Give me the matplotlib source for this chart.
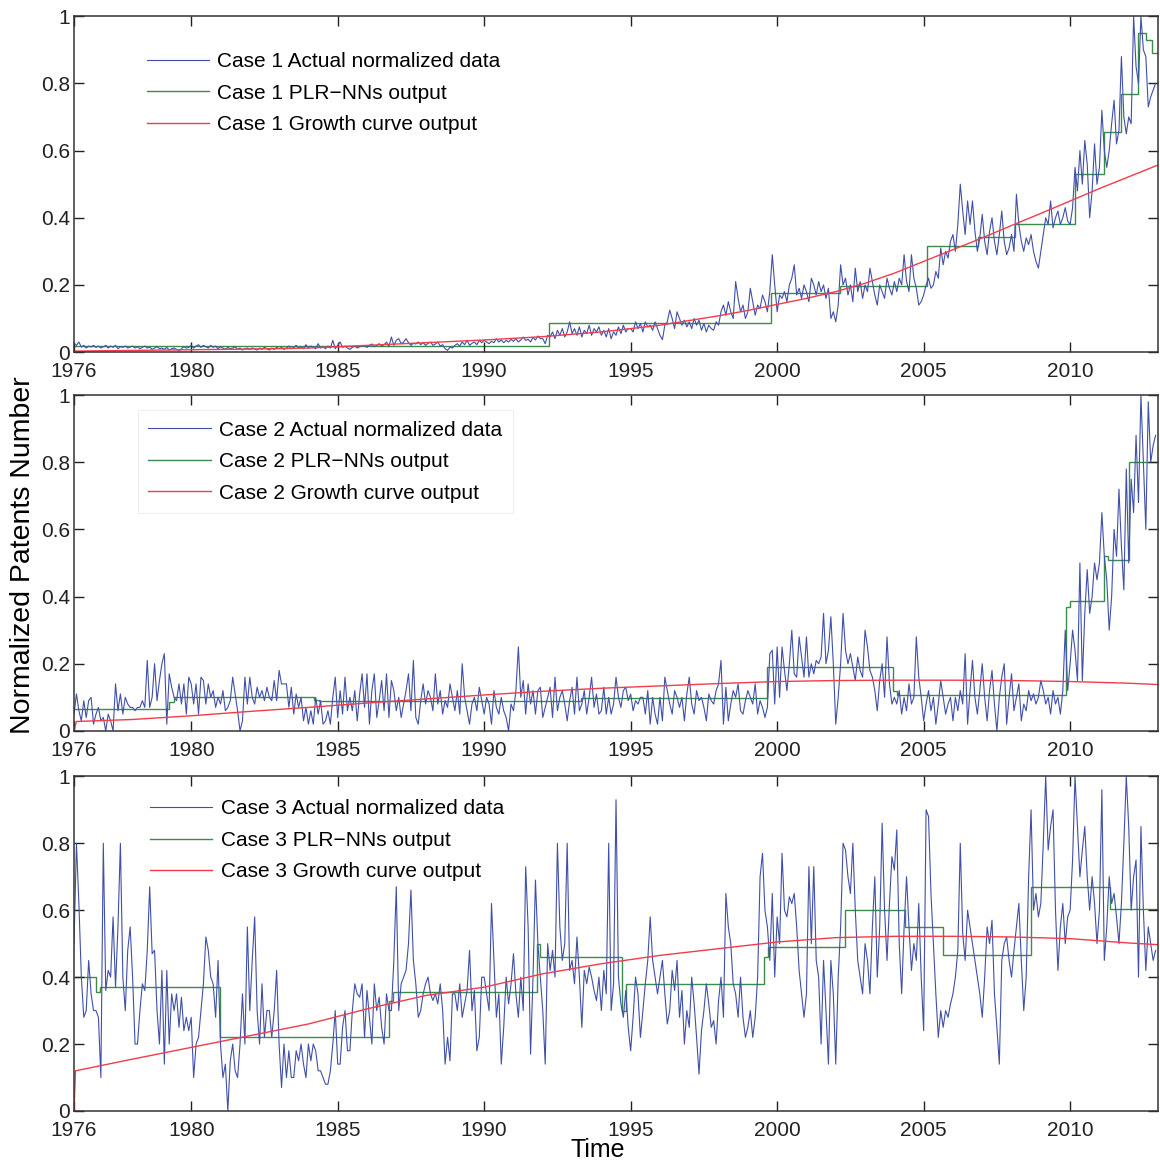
import numpy as np
import matplotlib
matplotlib.use("Agg")
import matplotlib.pyplot as plt

plt.rcParams['font.family'] = ['Liberation Sans', 'DejaVu Sans']

# monthly values, one row per year (1976 ... 2012)
case1_actual = [
    [0.025, 0.02, 0.03, 0.015, 0.02, 0.012, 0.018, 0.015, 0.02, 0.014, 0.018, 0.012],
    [0.016, 0.02, 0.012, 0.018, 0.014, 0.02, 0.01, 0.016, 0.014, 0.018, 0.012, 0.015],
    [0.018, 0.012, 0.016, 0.01, 0.014, 0.018, 0.012, 0.015, 0.008, 0.012, 0.016, 0.01],
    [0.012, 0.008, 0.014, 0.006, 0.01, 0.012, 0.008, 0.004, 0.01, 0.016, 0.012, 0.014],
    [0.02, 0.012, 0.018, 0.022, 0.014, 0.02, 0.016, 0.012, 0.02, 0.014, 0.018, 0.01],
    [0.016, 0.012, 0.008, 0.014, 0.01, 0.012, 0.016, 0.008, 0.012, 0.006, 0.01, 0.012],
    [0.008, 0.012, 0.01, 0.006, 0.012, 0.008, 0.014, 0.01, 0.006, 0.012, 0.008, 0.014],
    [0.01, 0.014, 0.008, 0.012, 0.018, 0.01, 0.014, 0.02, 0.012, 0.016, 0.01, 0.022],
    [0.012, 0.018, 0.014, 0.01, 0.025, 0.012, 0.016, 0.01, 0.018, 0.012, 0.035, 0.01],
    [0.02, 0.03, 0.014, 0.018, 0.012, 0.008, 0.014, 0.018, 0.012, 0.016, 0.02, 0.018],
    [0.014, 0.02, 0.024, 0.016, 0.02, 0.025, 0.018, 0.022, 0.03, 0.016, 0.045, 0.02],
    [0.035, 0.04, 0.025, 0.03, 0.04, 0.028, 0.02, 0.026, 0.024, 0.03, 0.022, 0.028],
    [0.02, 0.026, 0.03, 0.02, 0.024, 0.03, 0.018, 0.022, 0.01, 0.005, 0.015, 0.012],
    [0.02, 0.025, 0.018, 0.03, 0.022, 0.035, 0.02, 0.026, 0.03, 0.022, 0.035, 0.028],
    [0.035, 0.03, 0.025, 0.032, 0.028, 0.04, 0.03, 0.036, 0.028, 0.035, 0.03, 0.038],
    [0.032, 0.04, 0.03, 0.036, 0.045, 0.035, 0.038, 0.03, 0.044, 0.036, 0.048, 0.04],
    [0.04, 0.025, 0.05, 0.045, 0.06, 0.04, 0.065, 0.05, 0.07, 0.045, 0.06, 0.09],
    [0.055, 0.07, 0.05, 0.075, 0.045, 0.065, 0.055, 0.08, 0.05, 0.07, 0.06, 0.075],
    [0.05, 0.065, 0.045, 0.07, 0.04, 0.06, 0.05, 0.075, 0.055, 0.08, 0.06, 0.07],
    [0.07, 0.06, 0.09, 0.07, 0.085, 0.06, 0.09, 0.075, 0.08, 0.065, 0.09, 0.07],
    [0.05, 0.037, 0.08, 0.09, 0.125, 0.1, 0.07, 0.12, 0.1, 0.08, 0.095, 0.075],
    [0.09, 0.07, 0.1, 0.08, 0.095, 0.065, 0.085, 0.06, 0.08, 0.07, 0.065, 0.09],
    [0.08, 0.12, 0.14, 0.11, 0.15, 0.12, 0.1, 0.21, 0.16, 0.12, 0.14, 0.1],
    [0.12, 0.19, 0.15, 0.11, 0.14, 0.13, 0.17, 0.15, 0.12, 0.18, 0.29, 0.2],
    [0.12, 0.17, 0.16, 0.18, 0.15, 0.2, 0.22, 0.26, 0.17, 0.19, 0.16, 0.2],
    [0.18, 0.15, 0.22, 0.2, 0.17, 0.21, 0.18, 0.2, 0.16, 0.19, 0.1, 0.12],
    [0.09, 0.14, 0.26, 0.2, 0.22, 0.17, 0.2, 0.15, 0.25, 0.18, 0.21, 0.16],
    [0.2, 0.18, 0.25, 0.21, 0.17, 0.14, 0.2, 0.18, 0.16, 0.22, 0.19, 0.17],
    [0.21, 0.18, 0.22, 0.2, 0.29, 0.21, 0.18, 0.29, 0.22, 0.19, 0.14, 0.15],
    [0.17, 0.2, 0.22, 0.19, 0.2, 0.24, 0.22, 0.31, 0.26, 0.3, 0.28, 0.33],
    [0.35, 0.3, 0.38, 0.5, 0.42, 0.35, 0.45, 0.38, 0.45, 0.36, 0.3, 0.34],
    [0.41, 0.33, 0.29, 0.36, 0.4, 0.33, 0.29, 0.35, 0.42, 0.33, 0.29, 0.31],
    [0.35, 0.3, 0.47, 0.38, 0.33, 0.3, 0.34, 0.32, 0.35, 0.3, 0.27, 0.25],
    [0.3, 0.35, 0.4, 0.38, 0.45, 0.37, 0.4, 0.42, 0.38, 0.4, 0.43, 0.39],
    [0.38, 0.43, 0.55, 0.48, 0.6, 0.5, 0.63, 0.56, 0.4, 0.48, 0.62, 0.5],
    [0.55, 0.72, 0.6, 0.55, 0.6, 0.68, 0.75, 0.62, 0.66, 0.88, 0.7, 0.65],
    [0.7, 0.68, 1.0, 0.85, 0.8, 1.0, 0.9, 0.88, 0.73, 0.76, 0.78, 0.8],
]

case2_actual = [
    [0.05, 0.11, 0.06, 0.03, 0.09, 0.04, 0.09, 0.10, 0.02, 0.05, 0.07, 0.03],
    [0.04, 0.00, 0.05, 0.03, 0.00, 0.14, 0.06, 0.11, 0.05, 0.10, 0.08, 0.07],
    [0.07, 0.06, 0.07, 0.07, 0.09, 0.07, 0.21, 0.07, 0.10, 0.20, 0.09, 0.15],
    [0.20, 0.23, 0.02, 0.17, 0.13, 0.10, 0.09, 0.14, 0.08, 0.14, 0.05, 0.16],
    [0.14, 0.08, 0.14, 0.05, 0.16, 0.15, 0.08, 0.14, 0.10, 0.12, 0.07, 0.10],
    [0.08, 0.12, 0.06, 0.07, 0.09, 0.16, 0.11, 0.06, 0.00, 0.03, 0.16, 0.08],
    [0.16, 0.10, 0.08, 0.13, 0.10, 0.12, 0.09, 0.13, 0.10, 0.09, 0.15, 0.09],
    [0.18, 0.14, 0.14, 0.14, 0.07, 0.13, 0.05, 0.11, 0.07, 0.10, 0.03, 0.07],
    [0.02, 0.06, 0.02, 0.10, 0.05, 0.09, 0.02, 0.03, 0.06, 0.02, 0.10, 0.16],
    [0.04, 0.12, 0.05, 0.16, 0.06, 0.10, 0.06, 0.12, 0.03, 0.11, 0.17, 0.07],
    [0.17, 0.02, 0.12, 0.17, 0.04, 0.09, 0.15, 0.06, 0.17, 0.04, 0.15, 0.12],
    [0.06, 0.10, 0.04, 0.08, 0.12, 0.17, 0.06, 0.21, 0.04, 0.02, 0.09, 0.14],
    [0.08, 0.12, 0.10, 0.06, 0.17, 0.08, 0.12, 0.05, 0.09, 0.07, 0.14, 0.10],
    [0.06, 0.12, 0.05, 0.20, 0.10, 0.06, 0.02, 0.08, 0.10, 0.06, 0.13, 0.09],
    [0.05, 0.10, 0.08, 0.02, 0.12, 0.07, 0.05, 0.10, 0.06, 0.04, 0.00, 0.08],
    [0.06, 0.12, 0.25, 0.10, 0.15, 0.05, 0.14, 0.08, 0.12, 0.05, 0.12, 0.13],
    [0.04, 0.07, 0.10, 0.13, 0.04, 0.16, 0.06, 0.10, 0.12, 0.08, 0.03, 0.09],
    [0.13, 0.05, 0.16, 0.06, 0.08, 0.12, 0.05, 0.10, 0.16, 0.07, 0.11, 0.05],
    [0.06, 0.13, 0.05, 0.10, 0.05, 0.08, 0.16, 0.10, 0.07, 0.12, 0.13, 0.09],
    [0.11, 0.06, 0.09, 0.08, 0.10, 0.10, 0.05, 0.12, 0.02, 0.10, 0.05, 0.02],
    [0.10, 0.03, 0.16, 0.12, 0.08, 0.05, 0.12, 0.10, 0.07, 0.10, 0.03, 0.11],
    [0.16, 0.08, 0.05, 0.12, 0.09, 0.10, 0.07, 0.03, 0.11, 0.09, 0.08, 0.12],
    [0.14, 0.21, 0.02, 0.13, 0.03, 0.08, 0.12, 0.10, 0.14, 0.06, 0.05, 0.09],
    [0.12, 0.10, 0.08, 0.14, 0.05, 0.09, 0.07, 0.04, 0.07, 0.23, 0.24, 0.08],
    [0.25, 0.10, 0.25, 0.18, 0.12, 0.20, 0.30, 0.17, 0.16, 0.28, 0.22, 0.16],
    [0.28, 0.16, 0.20, 0.17, 0.21, 0.20, 0.22, 0.35, 0.20, 0.24, 0.34, 0.20],
    [0.02, 0.10, 0.20, 0.35, 0.24, 0.20, 0.23, 0.19, 0.15, 0.22, 0.18, 0.16],
    [0.30, 0.25, 0.18, 0.16, 0.12, 0.06, 0.15, 0.20, 0.10, 0.28, 0.14, 0.08],
    [0.10, 0.08, 0.12, 0.05, 0.10, 0.06, 0.14, 0.08, 0.10, 0.28, 0.16, 0.10],
    [0.03, 0.08, 0.12, 0.06, 0.10, 0.02, 0.08, 0.15, 0.10, 0.05, 0.08, 0.10],
    [0.03, 0.10, 0.06, 0.12, 0.08, 0.23, 0.02, 0.12, 0.21, 0.10, 0.05, 0.12],
    [0.20, 0.10, 0.03, 0.12, 0.18, 0.08, 0.00, 0.10, 0.16, 0.20, 0.02, 0.10],
    [0.17, 0.06, 0.10, 0.14, 0.03, 0.08, 0.06, 0.12, 0.09, 0.11, 0.08, 0.10],
    [0.15, 0.12, 0.08, 0.10, 0.05, 0.12, 0.08, 0.10, 0.05, 0.12, 0.30, 0.12],
    [0.20, 0.30, 0.24, 0.15, 0.50, 0.15, 0.35, 0.48, 0.35, 0.40, 0.50, 0.45],
    [0.50, 0.65, 0.52, 0.45, 0.30, 0.40, 0.60, 0.52, 0.72, 0.55, 0.42, 0.78],
    [0.50, 0.75, 0.65, 0.88, 0.68, 1.00, 0.80, 0.60, 0.98, 0.80, 0.85, 0.88],
]

case3_actual = [
    [0.50, 0.80, 0.62, 0.40, 0.28, 0.30, 0.45, 0.35, 0.30, 0.30, 0.28, 0.10],
    [0.80, 0.36, 0.42, 0.40, 0.58, 0.37, 0.55, 0.80, 0.40, 0.30, 0.48, 0.55],
    [0.40, 0.20, 0.20, 0.30, 0.38, 0.36, 0.48, 0.67, 0.47, 0.48, 0.30, 0.20],
    [0.42, 0.14, 0.42, 0.20, 0.35, 0.30, 0.35, 0.25, 0.34, 0.24, 0.28, 0.24],
    [0.28, 0.10, 0.20, 0.22, 0.30, 0.38, 0.52, 0.48, 0.40, 0.38, 0.28, 0.45],
    [0.20, 0.10, 0.14, 0.00, 0.15, 0.20, 0.12, 0.10, 0.20, 0.35, 0.20, 0.55],
    [0.30, 0.45, 0.58, 0.30, 0.20, 0.38, 0.22, 0.30, 0.30, 0.22, 0.30, 0.42],
    [0.20, 0.07, 0.20, 0.10, 0.18, 0.10, 0.10, 0.18, 0.15, 0.20, 0.14, 0.10],
    [0.20, 0.15, 0.20, 0.18, 0.12, 0.12, 0.10, 0.08, 0.08, 0.12, 0.20, 0.30],
    [0.14, 0.14, 0.25, 0.30, 0.18, 0.18, 0.30, 0.38, 0.35, 0.34, 0.38, 0.22],
    [0.36, 0.28, 0.20, 0.38, 0.30, 0.34, 0.25, 0.20, 0.35, 0.30, 0.30, 0.45],
    [0.67, 0.30, 0.38, 0.40, 0.42, 0.50, 0.66, 0.45, 0.38, 0.28, 0.30, 0.35],
    [0.38, 0.40, 0.35, 0.33, 0.35, 0.32, 0.38, 0.30, 0.14, 0.22, 0.15, 0.35],
    [0.35, 0.30, 0.38, 0.28, 0.32, 0.36, 0.48, 0.30, 0.36, 0.18, 0.22, 0.40],
    [0.40, 0.35, 0.30, 0.62, 0.45, 0.28, 0.35, 0.14, 0.25, 0.40, 0.32, 0.38],
    [0.47, 0.35, 0.28, 0.40, 0.30, 0.73, 0.55, 0.17, 0.40, 0.69, 0.50, 0.40],
    [0.30, 0.14, 0.50, 0.42, 0.48, 0.40, 0.80, 0.55, 0.45, 0.50, 0.80, 0.42],
    [0.45, 0.38, 0.52, 0.40, 0.25, 0.42, 0.38, 0.43, 0.40, 0.36, 0.33, 0.40],
    [0.30, 0.42, 0.35, 0.80, 0.30, 0.38, 0.93, 0.40, 0.32, 0.28, 0.36, 0.25],
    [0.18, 0.28, 0.40, 0.35, 0.22, 0.30, 0.38, 0.45, 0.58, 0.45, 0.40, 0.35],
    [0.40, 0.45, 0.35, 0.26, 0.30, 0.42, 0.36, 0.45, 0.28, 0.36, 0.20, 0.30],
    [0.25, 0.40, 0.32, 0.22, 0.11, 0.24, 0.30, 0.38, 0.32, 0.25, 0.27, 0.20],
    [0.33, 0.40, 0.28, 0.65, 0.55, 0.50, 0.38, 0.35, 0.28, 0.40, 0.28, 0.22],
    [0.25, 0.30, 0.22, 0.28, 0.40, 0.70, 0.77, 0.60, 0.55, 0.45, 0.65, 0.40],
    [0.58, 0.50, 0.77, 0.60, 0.58, 0.64, 0.62, 0.65, 0.55, 0.42, 0.35, 0.28],
    [0.35, 0.73, 0.50, 0.73, 0.45, 0.40, 0.20, 0.45, 0.30, 0.14, 0.45, 0.35],
    [0.14, 0.40, 0.55, 0.80, 0.78, 0.70, 0.65, 0.80, 0.60, 0.45, 0.40, 0.35],
    [0.50, 0.45, 0.35, 0.55, 0.70, 0.40, 0.55, 0.86, 0.60, 0.45, 0.62, 0.76],
    [0.72, 0.84, 0.50, 0.35, 0.55, 0.70, 0.55, 0.42, 0.50, 0.45, 0.62, 0.40],
    [0.24, 0.90, 0.88, 0.65, 0.50, 0.35, 0.22, 0.30, 0.25, 0.30, 0.28, 0.32],
    [0.35, 0.40, 0.48, 0.80, 0.53, 0.45, 0.60, 0.55, 0.50, 0.45, 0.40, 0.35],
    [0.28, 0.40, 0.55, 0.50, 0.57, 0.35, 0.25, 0.14, 0.45, 0.50, 0.52, 0.45],
    [0.40, 0.48, 0.55, 0.62, 0.45, 0.30, 0.40, 0.70, 0.90, 0.60, 0.65, 0.58],
    [0.62, 0.80, 1.00, 0.78, 0.85, 0.90, 0.60, 0.42, 0.55, 0.62, 0.50, 0.58],
    [0.60, 0.75, 1.00, 0.85, 0.70, 0.78, 0.85, 0.70, 0.60, 0.70, 0.62, 0.50],
    [0.60, 0.96, 0.45, 0.55, 0.70, 0.62, 0.65, 0.58, 0.50, 0.62, 0.80, 1.00],
    [0.85, 0.60, 0.70, 0.75, 0.40, 0.85, 0.60, 0.42, 0.55, 0.50, 0.45, 0.48],
]

# PLR-NNs output: piecewise constant levels between change points
case1_plr_edges = [1976, 1992.2, 1999.8, 2002.13, 2005.1, 2006.87, 2008.13, 2010.15,
                   2011.14, 2011.75, 2012.3, 2012.6, 2012.8, 2013]
case1_plr_levels = [0.017, 0.086, 0.177, 0.198, 0.316, 0.343, 0.38, 0.53,
                    0.656, 0.77, 0.95, 0.93, 0.89]

case2_plr_edges = [1976, 1979.25, 1979.4, 1984.2, 1984.35, 1993.3, 1999.67, 2003.96,
                   2004.1, 2009.85, 2010.0, 2011.17, 2011.3, 2012.0, 2013]
case2_plr_levels = [0.065, 0.085, 0.10, 0.093, 0.09, 0.097, 0.19, 0.12,
                    0.108, 0.37, 0.387, 0.52, 0.51, 0.80]

case3_plr_edges = [1976, 1976.75, 1976.9, 1981.0, 1986.75, 1986.9, 1991.8, 1991.9,
                   1994.7, 1994.85, 1999.55, 1999.7, 2002.3, 2004.35, 2005.65,
                   2008.65, 2011.35, 2013]
case3_plr_levels = [0.40, 0.355, 0.37, 0.22, 0.33, 0.355, 0.50, 0.46,
                    0.30, 0.38, 0.46, 0.49, 0.60, 0.55, 0.465, 0.67, 0.605]

# growth curve output (read at a few dates)
case1_gc_years = [1976, 1978, 1980, 1982, 1984, 1986, 1988, 1990, 1992, 1994, 1995, 1996,
                  1997, 1998, 1999, 2000, 2001, 2002, 2003, 2004, 2005, 2006, 2007,
                  2008, 2009, 2010, 2011, 2012, 2013]
case1_gc_values = [0.003, 0.005, 0.007, 0.009, 0.012, 0.02, 0.028, 0.036, 0.046, 0.06,
                   0.07, 0.08, 0.094, 0.108, 0.124, 0.142, 0.16, 0.18, 0.205, 0.235,
                   0.27, 0.305, 0.34, 0.377, 0.413, 0.45, 0.487, 0.522, 0.557]

case2_gc_years = [1976, 1976.08, 1978, 1980, 1982, 1984, 1986, 1988, 1990, 1992, 1994,
                  1996, 1998, 2000, 2002, 2004, 2006, 2008, 2010, 2012, 2013]
case2_gc_values = [0.0, 0.028, 0.034, 0.045, 0.058, 0.07, 0.083, 0.095, 0.107, 0.118,
                   0.127, 0.134, 0.141, 0.147, 0.15, 0.151, 0.151, 0.15, 0.147, 0.142, 0.138]

case3_gc_years = [1976, 1976.05, 1978, 1980, 1982, 1984, 1986, 1988, 1990, 1992, 1994,
                  1996, 1998, 2000, 2002, 2004, 2006, 2008, 2010, 2012, 2013]
case3_gc_values = [0.0, 0.12, 0.155, 0.19, 0.225, 0.26, 0.305, 0.345, 0.37, 0.41, 0.44,
                   0.465, 0.485, 0.505, 0.518, 0.522, 0.522, 0.52, 0.515, 0.502, 0.497]

xtick_years = [1976, 1980, 1985, 1990, 1995, 2000, 2005, 2010]
ytick_vals = [0, 0.2, 0.4, 0.6, 0.8, 1]
ytick_labels = ['0', '0.2', '0.4', '0.6', '0.8', '1']

months = 1976 + np.arange(37 * 12) / 12.0

cases = [
    (1, case1_actual, case1_plr_edges, case1_plr_levels, case1_gc_years, case1_gc_values),
    (2, case2_actual, case2_plr_edges, case2_plr_levels, case2_gc_years, case2_gc_values),
    (3, case3_actual, case3_plr_edges, case3_plr_levels, case3_gc_years, case3_gc_values),
]

# axes boxes in figure fraction (left, bottom, width, height)
boxes = [(0.0638, 0.697, 0.9345, 0.289),
         (0.0638, 0.371, 0.9345, 0.289),
         (0.0638, 0.0439, 0.9345, 0.288)]
legend_anchor = [(0.067, 0.893), (0.059, 0.955), (0.07, 0.931)]

fig = plt.figure(figsize=(11.6, 11.62), dpi=100)

for (n, actual, edges, levels, gy, gv), box, anchor in zip(cases, boxes, legend_anchor):
    ax = fig.add_axes(box)
    ax.plot(months, np.ravel(actual), color='#4050aa', lw=0.8,
            label='Case %d Actual normalized data' % n)
    ax.stairs(levels, edges, baseline=None, color='#3a8c4c', lw=1.0,
              label='Case %d PLR\u2212NNs output' % n)
    ax.plot(gy, gv, color='#f23c4a', lw=1.0, label='Case %d Growth curve output' % n)

    ax.set_xlim(1976, 2013)
    ax.set_ylim(0, 1)
    ax.set_xticks(xtick_years)
    ax.set_xticklabels([str(y) for y in xtick_years])
    ax.set_yticks(ytick_vals)
    ax.set_yticklabels(ytick_labels)
    ax.tick_params(direction='in', length=7, width=1, top=True, right=True,
                   labelsize=15, colors='#222222')
    ax.tick_params(axis='x', pad=7)
    ax.tick_params(axis='y', pad=3)
    for sp in ax.spines.values():
        sp.set_color('#333333')
        sp.set_linewidth(1.1)

    if n == 2:
        leg = ax.legend(loc='upper left', bbox_to_anchor=anchor, borderaxespad=0,
                        fontsize=15, handlelength=3.0, handletextpad=0.4,
                        labelspacing=0.6, borderpad=0.5, fancybox=False,
                        frameon=True)
        leg.get_frame().set_edgecolor('#ececec')
        leg.get_frame().set_linewidth(0.8)
    else:
        ax.legend(loc='upper left', bbox_to_anchor=anchor, borderaxespad=0,
                  fontsize=15, handlelength=3.0, handletextpad=0.4,
                  labelspacing=0.6, borderpad=0, frameon=False)

fig.text(0.020, 0.522, 'Normalized Patents Number', rotation=90, fontsize=20.5,
         ha='center', va='center')
fig.text(0.515, 0.0103, 'Time', fontsize=18, ha='center', va='center')

fig.savefig('out.png', dpi=100)
